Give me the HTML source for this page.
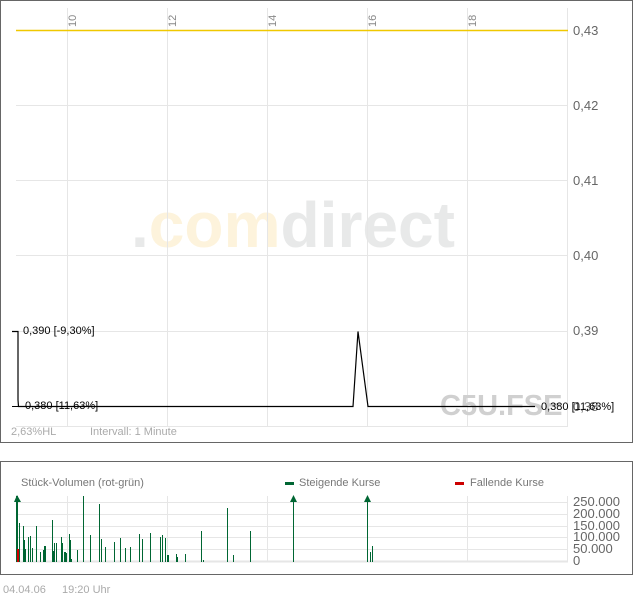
<!DOCTYPE html>
<html><head><meta charset="utf-8"><style>
body{margin:0;background:#fff;width:634px;height:597px;overflow:hidden}
svg{font-family:"Liberation Sans",sans-serif}
</style></head><body>
<svg width="634" height="597" viewBox="0 0 634 597">
<rect x="0.5" y="0.5" width="632" height="442" fill="#fff" stroke="#666"/>
<text x="131" y="247" font-size="64" font-weight="bold" fill="#e8e9e9" textLength="324" lengthAdjust="spacingAndGlyphs">.<tspan fill="#fdf3dc">com</tspan>direct</text>
<g stroke="#e6e6e6" stroke-width="1">
<line x1="67.5" y1="8" x2="67.5" y2="426"/><line x1="167.5" y1="8" x2="167.5" y2="426"/><line x1="267.5" y1="8" x2="267.5" y2="426"/><line x1="367.5" y1="8" x2="367.5" y2="426"/><line x1="467.5" y1="8" x2="467.5" y2="426"/><line x1="567.5" y1="8" x2="567.5" y2="426"/>
<line x1="16" y1="105.5" x2="568" y2="105.5"/><line x1="16" y1="180.5" x2="568" y2="180.5"/><line x1="16" y1="255.5" x2="568" y2="255.5"/><line x1="16" y1="331.5" x2="568" y2="331.5"/><line x1="16" y1="426.5" x2="568" y2="426.5"/>
</g>
<g font-size="11" fill="#888">
<text transform="translate(76,27) rotate(-90)">10</text>
<text transform="translate(176,27) rotate(-90)">12</text>
<text transform="translate(276,27) rotate(-90)">14</text>
<text transform="translate(376,27) rotate(-90)">16</text>
<text transform="translate(476,27) rotate(-90)">18</text>
</g>
<line x1="16" y1="30.5" x2="568" y2="30.5" stroke="#f0c800" stroke-width="1.5"/>
<g font-size="13" fill="#666">
<text x="573" y="35">0,43</text><text x="573" y="110">0,42</text><text x="573" y="185">0,41</text><text x="573" y="260">0,40</text><text x="573" y="335">0,39</text><text x="573" y="411">0,38</text>
</g>
<text x="440" y="415" font-size="29" font-weight="bold" fill="#d0d0d0">C5U.FSE</text>
<polyline points="12,331.5 18,331.5 18,400 18.5,406.5 353,406.5 358,331.5 368,406.5 535,406.5" fill="none" stroke="#000" stroke-width="1.2"/>
<line x1="12" y1="406.5" x2="22" y2="406.5" stroke="#000"/>
<g font-size="11" fill="#000">
<text x="23" y="334">0,390 [-9,30%]</text>
<text x="25" y="409">0,380 [11,63%]</text>
<text x="541" y="410">0,380 [11,63%]</text>
</g>
<text x="11" y="435" font-size="11" fill="#aaa">2,63%HL</text>
<text x="90" y="435" font-size="11" fill="#aaa">Intervall: 1 Minute</text>

<rect x="0.5" y="461.5" width="632" height="113" fill="#fff" stroke="#666"/>
<g stroke="#e6e6e6">
<line x1="16" y1="502.5" x2="568" y2="502.5"/><line x1="16" y1="514.5" x2="568" y2="514.5"/><line x1="16" y1="526.5" x2="568" y2="526.5"/><line x1="16" y1="537.5" x2="568" y2="537.5"/><line x1="16" y1="549.5" x2="568" y2="549.5"/><line x1="16" y1="561.5" x2="568" y2="561.5" stroke-width="2"/>
<line x1="67.5" y1="496" x2="67.5" y2="562"/><line x1="167.5" y1="496" x2="167.5" y2="562"/><line x1="267.5" y1="496" x2="267.5" y2="562"/><line x1="367.5" y1="496" x2="367.5" y2="562"/><line x1="467.5" y1="496" x2="467.5" y2="562"/><line x1="567.5" y1="496" x2="567.5" y2="562"/>
</g>
<text x="21" y="486" font-size="11" fill="#777">Stück-Volumen (rot-grün)</text>
<rect x="285" y="482" width="9" height="3" fill="#006633"/><text x="299" y="486" font-size="11" fill="#777">Steigende Kurse</text>
<rect x="455" y="482" width="9" height="3" fill="#cc0000"/><text x="470" y="486" font-size="11" fill="#777">Fallende Kurse</text>
<g font-size="13" fill="#666">
<text x="573" y="506">250.000</text><text x="573" y="518">200.000</text><text x="573" y="530">150.000</text><text x="573" y="541">100.000</text><text x="573" y="553">50.000</text><text x="573" y="565">0</text>
</g>
<g stroke="#006633" stroke-width="1">
<path d="M16.5 562V496M17.5 562V496M19.5 562V523M23.5 562V526M24.5 562V540M25.5 562V549M28.5 562V537M30.5 562V536M32.5 562V548M36.5 562V526M40.5 562V552M43.5 562V550M44.5 562V546M45.5 562V546M52.5 562V520M53.5 562V551M54.5 562V543M56.5 562V543M61.5 562V537M62.5 562V543M64.5 562V552M65.5 562V552M66.5 562V553M69.5 562V534M70.5 562V540M71.5 562V559M77.5 562V550M83.5 562V496M90.5 562V535M99.5 562V504M101.5 562V539M105.5 562V547M114.5 562V542M120.5 562V538M125.5 562V548M130.5 562V547M139.5 562V534M142.5 562V539M150.5 562V533M160.5 562V537M162.5 562V535M165.5 562V538M167.5 562V555M168.5 562V555M176.5 562V554M177.5 562V557M185.5 562V554M201.5 562V531M203.5 562V560M227.5 562V508M233.5 562V555M250.5 562V531M293.5 562V498M367.5 562V498M370.5 562V552M372.5 562V546"/>
</g>
<path d="M14 502L17 495L21 502Z M290 502L293.5 495L297 502Z M364 502L367.5 495L371 502Z" fill="#006633"/>
<rect x="17" y="549" width="2" height="13" fill="#cc0000"/>
<text x="3" y="593" font-size="11" fill="#aaa">04.04.06</text>
<text x="62" y="593" font-size="11" fill="#aaa">19:20 Uhr</text>
</svg>
</body></html>
